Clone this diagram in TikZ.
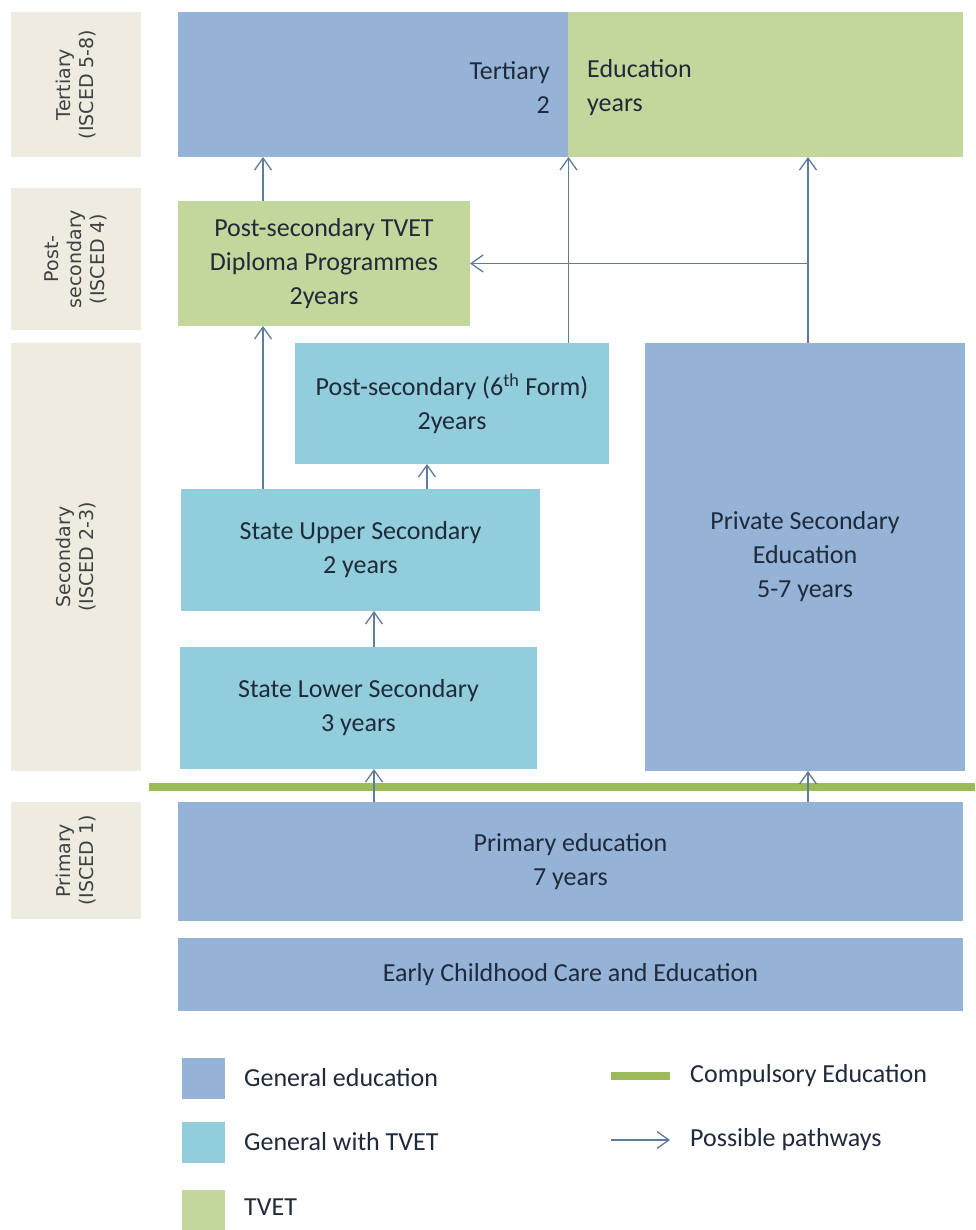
\documentclass[tikz,border=0pt]{standalone}
\usepackage{fontspec}
\setmainfont{Carlito}
\newfontfamily\sidefont{DejaVu Sans}
\usetikzlibrary{arrows.meta}
\definecolor{genblue}{HTML}{95B3D7}
\definecolor{tvetteal}{HTML}{92CDDC}
\definecolor{tvetgreen}{HTML}{C3D69B}
\definecolor{compgreen}{HTML}{9BBB59}
\definecolor{beige}{HTML}{EEECE1}
\definecolor{arrowblue}{HTML}{5E7C9E}
\definecolor{txt}{HTML}{1F2A3A}
\definecolor{sidetxt}{HTML}{404040}
\tikzset{
  box/.style={inner sep=0pt, outer sep=0pt, text=txt, align=center,
    font=\fontsize{26}{34}\selectfont},
  side/.style={fill=beige, inner sep=0pt, outer sep=0pt, rotate=90, align=center,
    text=sidetxt, font=\sidefont\fontsize{19}{23}\selectfont},
  lbl/.style={inner sep=0pt, text=txt, font=\fontsize{26}{34}\selectfont},
  arr/.style={draw=arrowblue, line width=1.3pt,
    -{Straight Barb[length=12pt,width=17pt,line width=1.3pt]}},
  compline/.style={draw=compgreen, line width=8pt},
}
\begin{document}
\begin{tikzpicture}[x=1pt,y=-1pt]
\useasboundingbox[fill=white] (0,0) rectangle (975,1230);

% side labels
\node[side, minimum width=145, minimum height=130] (sT) at (76,84.5) {Tertiary\\(ISCED 5-8)};
\node[side, minimum width=142, minimum height=130] (sP) at (76,259) {Post-\\secondary\\(ISCED 4)};
\node[side, minimum width=428, minimum height=130] (sS) at (76,557) {Secondary\\(ISCED 2-3)};
\node[side, minimum width=117, minimum height=130] (sPr) at (76,860.5) {Primary\\(ISCED 1)};

% main boxes
\node[box, fill=genblue, minimum width=390, minimum height=145] (tb) at (373,84.5) {};
\node[box, fill=tvetgreen, minimum width=395, minimum height=145] (tg) at (765.5,84.5) {};
\node[lbl, anchor=east, align=right] (tbt) at (550,88) {Tertiary\\2};
\node[lbl, anchor=west, align=left] (tgt) at (587,88) {Education\\years};

\node[box, fill=tvetgreen, minimum width=292, minimum height=125] (tvet) at (324,263.5)
  {Post-secondary TVET\\Diploma Programmes\\2years};
\node[box, fill=tvetteal, minimum width=314, minimum height=121] (sixth) at (452,403.5)
  {Post-secondary (6\textsuperscript{th} Form)\\2years};
\node[box, fill=tvetteal, minimum width=359, minimum height=122] (upper) at (360.5,550)
  {State Upper Secondary\\2 years};
\node[box, fill=tvetteal, minimum width=357, minimum height=122] (lower) at (358.5,708)
  {State Lower Secondary\\3 years};
\node[box, fill=genblue, minimum width=320, minimum height=428] (private) at (805,557)
  {Private Secondary\\Education\\5-7 years};
\node[box, fill=genblue, minimum width=785, minimum height=119] (primary) at (570.5,861.5)
  {Primary education\\7 years};
\node[box, fill=genblue, minimum width=785, minimum height=73] (ecce) at (570.5,974.5)
  {Early Childhood Care and Education};

% compulsory education line
\coordinate (cl1) at (149,787);
\coordinate (cl2) at (975,787);
\draw[compline] (cl1) -- (cl2);

% pathway columns
\coordinate (c1) at (263,0);
\coordinate (c2) at (568.5,0);
\coordinate (c3) at (808,0);
\coordinate (c4) at (427,0);
\coordinate (c5) at (374,0);

\draw[arr] (c1 |- tvet.north) -- (c1 |- tb.south);
\draw[arr] (c2 |- sixth.north) -- (c2 |- tb.south);
\draw[arr] (c3 |- private.north) -- (c3 |- tg.south);
\draw[arr] (c3 |- tvet.east) -- (tvet.east);
\draw[arr] (c1 |- upper.north) -- (c1 |- tvet.south);
\draw[arr] (c4 |- upper.north) -- (c4 |- sixth.south);
\draw[arr] (c5 |- lower.north) -- (c5 |- upper.south);
\draw[arr] (c5 |- primary.north) -- (c5 |- lower.south);
\draw[arr] (c3 |- primary.north) -- (c3 |- private.south);

% legend
\node[fill=genblue, inner sep=0pt, minimum width=43, minimum height=41] (lg1) at (203.5,1078.5) {};
\node[fill=tvetteal, inner sep=0pt, minimum width=43, minimum height=41] (lg2) at (203.5,1142.5) {};
\node[fill=tvetgreen, inner sep=0pt, minimum width=43, minimum height=41] (lg3) at (203.5,1210) {};
\node[lbl, anchor=west] (lt1) at (244,1078) {General education};
\node[lbl, anchor=west] (lt2) at (244,1142) {General with TVET};
\node[lbl, anchor=west] (lt3) at (244,1207) {TVET};

\coordinate (ll1) at (611,1076);
\coordinate (ll2) at (670,1076);
\draw[draw=compgreen, line width=8pt] (ll1) -- (ll2);
\node[lbl, anchor=west] (lt4) at (690,1076) {Compulsory Education};
\coordinate (la1) at (611,1140);
\coordinate (la2) at (670,1140);
\draw[arr] (la1) -- (la2);
\node[lbl, anchor=west] (lt5) at (690,1140) {Possible pathways};
\end{tikzpicture}
\end{document}
